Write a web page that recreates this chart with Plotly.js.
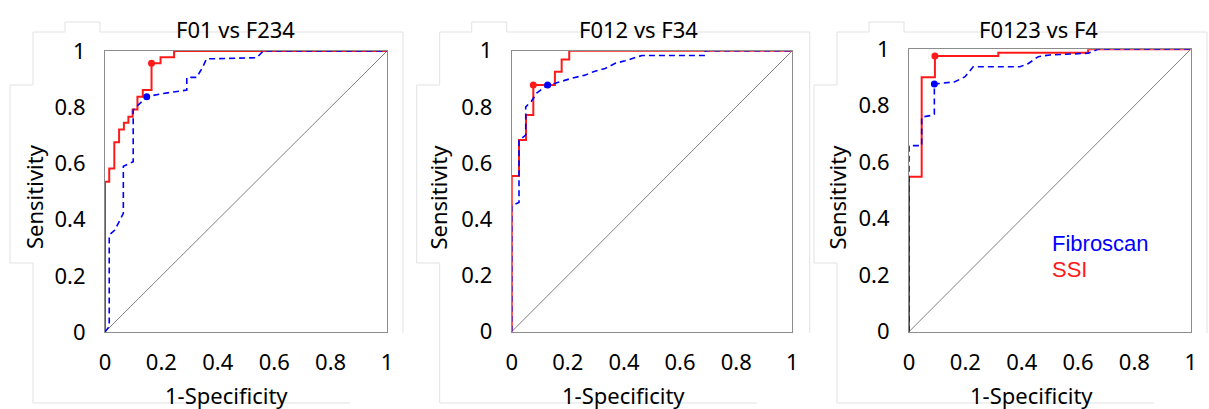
<!DOCTYPE html>
<html>
<head>
<meta charset="utf-8">
<script src="https://cdn.plot.ly/plotly-3.0.1.min.js"></script>
<style>html,body{margin:0;padding:0;background:#fff;}#chart{width:1209px;height:409px;}</style>
</head>
<body>
<div id="chart"></div>
<script>
// ---- data ----
const panelTitles = ['F01 vs F234', 'F012 vs F34', 'F0123 vs F4'];
const tickVals = [0, 0.2, 0.4, 0.6, 0.8, 1];
const tickText = ['0', '0.2', '0.4', '0.6', '0.8', '1'];
const xTitle = '1-Specificity';
const yTitle = 'Sensitivity';
const seriesNames = ['Fibroscan', 'SSI'];

// SSI ROC operating points (step curve)
const fpr1SSI = [0, 0, 0.015, 0.033, 0.050, 0.067, 0.083, 0.098, 0.115, 0.134, 0.165, 0.197, 0.245, 1];
const tpr1SSI = [0, 0.535, 0.582, 0.675, 0.721, 0.745, 0.766, 0.792, 0.837, 0.861, 0.956, 0.978, 1, 1];
const fpr2SSI = [0, 0, 0.026, 0.051, 0.077, 0.154, 0.178, 0.205, 1];
const tpr2SSI = [0, 0.554, 0.682, 0.771, 0.878, 0.925, 0.969, 1, 1];
const fpr3SSI = [0, 0, 0.045, 0.092, 0.317, 0.636, 1];
const tpr3SSI = [0, 0.549, 0.901, 0.976, 0.988, 1, 1];

// Fibroscan ROC curve vertices
const fpr1Fib = [0, 0.015, 0.015, 0.035, 0.065, 0.065, 0.100, 0.100, 0.120, 0.148, 0.200, 0.290, 0.290, 0.325, 0.345, 0.360, 0.538, 0.561, 1];
const tpr1Fib = [0, 0.020, 0.345, 0.363, 0.422, 0.590, 0.606, 0.790, 0.810, 0.837, 0.848, 0.861, 0.906, 0.906, 0.940, 0.972, 0.976, 1, 1];
const fpr2Fib = [0, 0, 0.026, 0.026, 0.050, 0.050, 0.070, 0.090, 0.128, 0.155, 0.214, 0.261, 0.291, 0.333, 0.369, 0.404, 0.464, 0.690, 0.690, 1];
const tpr2Fib = [0, 0.448, 0.460, 0.680, 0.700, 0.800, 0.820, 0.850, 0.878, 0.884, 0.902, 0.913, 0.925, 0.937, 0.955, 0.964, 0.983, 0.983, 1, 1];
const fpr3Fib = [0, 0, 0.045, 0.045, 0.075, 0.090, 0.090, 0.116, 0.163, 0.199, 0.228, 0.394, 0.424, 0.459, 0.500, 0.636, 0.670, 1];
const tpr3Fib = [0, 0.659, 0.659, 0.760, 0.765, 0.770, 0.877, 0.880, 0.885, 0.903, 0.938, 0.938, 0.950, 0.974, 0.980, 0.986, 1, 1];

// optimal cut-off points
const cutFprSSI = [0.165, 0.077, 0.092];
const cutTprSSI = [0.956, 0.878, 0.976];
const cutFprFib = [0.148, 0.128, 0.090];
const cutTprFib = [0.837, 0.878, 0.877];

const diagX = [0, 1];
const diagY = [0, 1];

// ---- drawing ----
const W = 1209, H = 409;
const RED = '#ff1a1a', BLUE = '#0000ff';
const FONT = 'Noto Sans, Open Sans, sans-serif';
const ssiX = [fpr1SSI, fpr2SSI, fpr3SSI], ssiY = [tpr1SSI, tpr2SSI, tpr3SSI];
const fibX = [fpr1Fib, fpr2Fib, fpr3Fib], fibY = [tpr1Fib, tpr2Fib, tpr3Fib];

// plot-box geometry in px: [left, right, top, bottom]
const boxes = [[105, 387, 51, 332], [511.7, 792.3, 50.7, 331.7], [909, 1190.7, 49.3, 331.7]];
const titleCx = [235, 638, 1038];
const xTitleCx = [226.5, 623, 1031.5];
const yTitleCx = [34, 437.5, 836.5];

const data = [];
const layout = {
  width: W, height: H,
  margin: {l: 0, r: 0, t: 0, b: 0},
  paper_bgcolor: '#fff', plot_bgcolor: '#fff',
  showlegend: false,
  font: {family: FONT, size: 22, color: '#000'},
  annotations: [], shapes: []
};
const px = x => x / W, py = y => 1 - y / H;

for (let i = 0; i < 3; i++) {
  const s = i === 0 ? '' : String(i + 1);
  const xa = 'x' + s, ya = 'y' + s;
  const [l, r, t, b] = boxes[i];
  layout['xaxis' + s] = {
    domain: [px(l), px(r)], range: [0, 1], anchor: ya,
    showline: true, mirror: true, linecolor: '#8c8c8c', linewidth: 1,
    showgrid: false, zeroline: false, ticks: '',
    tickvals: tickVals, ticktext: tickText, ticklabelstandoff: 11,
    tickfont: {family: FONT, size: 22, color: '#000'}, fixedrange: true
  };
  layout['yaxis' + s] = {
    domain: [py(b), py(t)], range: [0, 1], anchor: xa,
    showline: true, mirror: true, linecolor: '#8c8c8c', linewidth: 1,
    showgrid: false, zeroline: false, ticks: '',
    tickvals: tickVals, ticktext: tickText, ticklabelstandoff: 14,
    tickfont: {family: FONT, size: 22, color: '#000'}, fixedrange: true
  };
  // diagonal reference line
  data.push({x: diagX, y: diagY, xaxis: xa, yaxis: ya, mode: 'lines',
    line: {color: '#808080', width: 1}, hoverinfo: 'skip'});
  // SSI
  data.push({x: ssiX[i], y: ssiY[i], xaxis: xa, yaxis: ya, mode: 'lines', name: seriesNames[1],
    line: {color: RED, width: 2, shape: 'hv'}});
  // Fibroscan
  data.push({x: fibX[i], y: fibY[i], xaxis: xa, yaxis: ya, mode: 'lines', name: seriesNames[0],
    line: {color: BLUE, width: 1.6, dash: '6px,4px'}});
  // cut-off markers
  data.push({x: [cutFprSSI[i]], y: [cutTprSSI[i]], xaxis: xa, yaxis: ya, mode: 'markers',
    marker: {color: RED, size: 7}, cliponaxis: false});
  data.push({x: [cutFprFib[i]], y: [cutTprFib[i]], xaxis: xa, yaxis: ya, mode: 'markers',
    marker: {color: BLUE, size: 7}, cliponaxis: false});

  // panel title
  layout.annotations.push({text: panelTitles[i], xref: 'paper', yref: 'paper',
    x: px(titleCx[i]), y: py(29), xanchor: 'center', yanchor: 'middle', showarrow: false,
    font: {family: FONT, size: 22, color: '#000'}});
  // x axis title
  layout.annotations.push({text: xTitle, xref: 'paper', yref: 'paper',
    x: px(xTitleCx[i]), y: py(395), xanchor: 'center', yanchor: 'middle', showarrow: false,
    font: {family: FONT, size: 22, color: '#000'}});
  // y axis title
  layout.annotations.push({text: yTitle, xref: 'paper', yref: 'paper', textangle: -90,
    x: px(yTitleCx[i]), y: py(197), xanchor: 'center', yanchor: 'middle', showarrow: false,
    font: {family: FONT, size: 22, color: '#000'}});

  // faint panel outline (background frame of the composite figure)
  const bx = l;
  const pts = [[bx - 72, 403], [bx - 72, 263], [bx - 95, 263], [bx - 95, 85], [bx - 72, 85], [bx - 72, 32],
    [bx - 40, 32], [bx - 40, 22], [bx - 5, 22], [bx - 5, 32], [bx + 298, 32], [bx + 298, 333]];
  let path = 'M ' + pts.map(p => px(p[0]).toFixed(5) + ',' + py(p[1]).toFixed(5)).join(' L ');
  path += ' M ' + px(bx - 72).toFixed(5) + ',' + py(403).toFixed(5) + ' L ' + px(bx + 245).toFixed(5) + ',' + py(403).toFixed(5);
  layout.shapes.push({type: 'path', xref: 'paper', yref: 'paper', path: path,
    line: {color: '#e2e2e2', width: 1}, layer: 'below'});
}

// series labels (legend text) in the third panel
layout.annotations.push({text: seriesNames[0], xref: 'paper', yref: 'paper',
  x: px(1050), y: py(243), xanchor: 'left', yanchor: 'middle', showarrow: false,
  font: {family: 'Liberation Sans, Arial, sans-serif', size: 22, color: BLUE}});
layout.annotations.push({text: seriesNames[1], xref: 'paper', yref: 'paper',
  x: px(1050), y: py(269), xanchor: 'left', yanchor: 'middle', showarrow: false,
  font: {family: 'Liberation Sans, Arial, sans-serif', size: 22, color: RED}});

Plotly.newPlot('chart', data, layout, {staticPlot: true, displayModeBar: false});
</script>
</body>
</html>
